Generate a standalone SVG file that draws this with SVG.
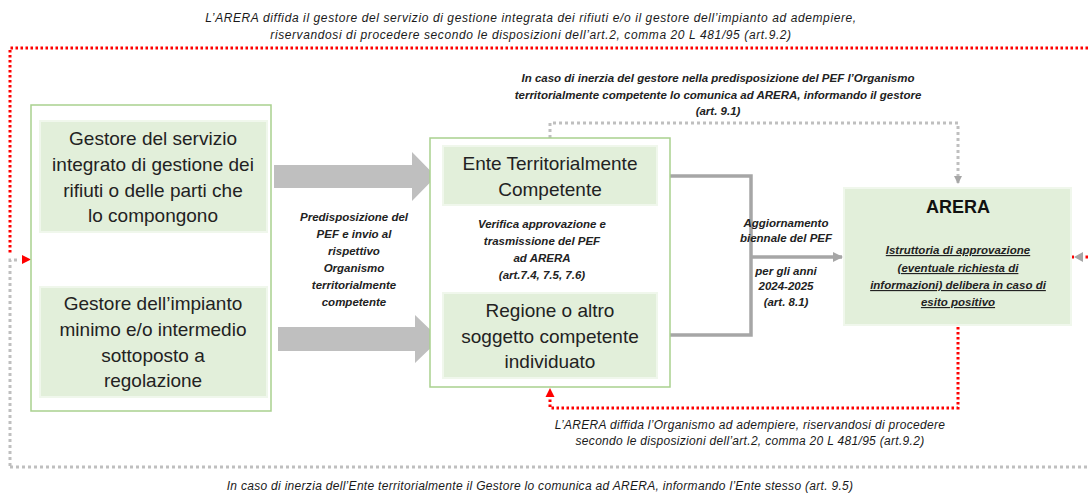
<svg xmlns="http://www.w3.org/2000/svg" width="1088" height="495" viewBox="0 0 1088 495">
<style>
.cont{fill:#ffffff;stroke:#a9d18e;stroke-width:1.5}
.box{fill:#e2efda;stroke:#f0f7ec;stroke-width:2}
.big{font-family:"Liberation Sans",Arial,sans-serif;font-size:19px;fill:#222;text-anchor:middle}
.lbl{font-family:"Liberation Sans",Arial,sans-serif;font-size:11.5px;font-weight:bold;font-style:italic;fill:#222;text-anchor:middle}
.note{font-family:"Liberation Sans",Arial,sans-serif;font-size:12px;font-style:italic;fill:#1a1a1a;text-anchor:middle;letter-spacing:0.3px}
.red{fill:none;stroke:#ff0000;stroke-width:3;stroke-dasharray:2.5 2.5}
.gray{fill:none;stroke:#bfbfbf;stroke-width:3;stroke-dasharray:3 3}
.solid{fill:none;stroke:#a6a6a6;stroke-width:3.5}
.blk{fill:#bfbfbf}
</style>
<defs>
<marker id="ah-gray" markerWidth="10" markerHeight="10" refX="7" refY="4" orient="auto" markerUnits="userSpaceOnUse"><path d="M0,0 L8,4 L0,8 z" fill="#a6a6a6"/></marker>
<marker id="ah-lg" markerWidth="12" markerHeight="12" refX="9" refY="5" orient="auto" markerUnits="userSpaceOnUse"><path d="M0,0 L10,5 L0,10 z" fill="#a6a6a6"/></marker>
</defs>

<!-- top note -->
<g id="label-diffida-gestore">
  <text class="note" x="531" y="22" style="letter-spacing:0.6px">L’ARERA diffida il gestore del servizio di gestione integrata dei rifiuti e/o il gestore dell’impianto ad adempiere,</text>
  <text class="note" x="531" y="39" style="letter-spacing:0.6px">riservandosi di procedere secondo le disposizioni dell’art.2, comma 20 L 481/95 (art.9.2)</text>
</g>

<g id="connectors">
  <!-- red outer loop top/left -->
  <path class="red" d="M1088,48 L10,48 L10,254"/>
  <path class="gray" d="M10,466 L10,260 L20,260"/>
  <path d="M22,255 L31,259.5 L22,264 z" fill="#ff0000"/>
  <!-- gray bottom loop -->
  <path class="gray" d="M10,467 L1088,467"/>
  <!-- right side arrows into ARERA -->
  <path class="red" d="M1088,257 L1084,257"/>
  <path d="M1083,252 L1074,257 L1083,262 z" fill="#a6a6a6"/>
  <rect x="1071" y="255.5" width="3" height="3" fill="#ff0000"/>
  <!-- block arrows -->
  <path class="blk" d="M274,165 L412,165 L412,152 L436,176.5 L412,201 L412,188 L274,188 z"/>
  <path class="blk" d="M278,327 L415,327 L415,315 L440,339 L415,363 L415,351 L278,351 z"/>
  <!-- solid connector from ETC / Regione to ARERA -->
  <path class="solid" d="M657,176 L751,176 L751,335 L657,335"/>
  <path class="solid" d="M751,257 L842,257" marker-end="url(#ah-lg)"/>
  <!-- gray dotted from ETC to ARERA top -->
  <path class="gray" d="M550,138 L550,123 L958,123 L958,183" marker-end="url(#ah-gray)"/>
  <!-- red dotted from ARERA bottom to middle container -->
  <path class="red" d="M958,327 L958,408 L550,408 L550,396"/>
  <path d="M545.5,397 L550,388 L554.5,397 z" fill="#ff0000"/>
</g>

<g id="gestori">
  <rect class="cont" x="31" y="105" width="240" height="306"/>
</g>
<g id="gestore-servizio">
  <rect class="box" x="40" y="121" width="227" height="111"/>
  <text class="big" x="153" y="145">Gestore del servizio</text>
  <text class="big" x="153" y="171">integrato di gestione dei</text>
  <text class="big" x="153" y="197">rifiuti o delle parti che</text>
  <text class="big" x="153" y="222">lo compongono</text>
</g>
<g id="gestore-impianto">
  <rect class="box" x="40" y="287" width="227" height="110"/>
  <text class="big" x="153" y="310">Gestore dell’impianto</text>
  <text class="big" x="153" y="336">minimo e/o intermedio</text>
  <text class="big" x="153" y="362">sottoposto a</text>
  <text class="big" x="153" y="387">regolazione</text>
</g>

<g id="label-predisposizione">
  <text class="lbl" x="354" y="221">Predisposizione del</text>
  <text class="lbl" x="354" y="238">PEF e invio al</text>
  <text class="lbl" x="354" y="255">rispettivo</text>
  <text class="lbl" x="354" y="272">Organismo</text>
  <text class="lbl" x="354" y="289">territorialmente</text>
  <text class="lbl" x="354" y="306">competente</text>
</g>

<g id="organismo">
  <rect class="cont" x="430" y="138" width="240" height="249"/>
  <text class="lbl" x="542" y="228">Verifica approvazione e</text>
  <text class="lbl" x="542" y="245">trasmissione  del PEF</text>
  <text class="lbl" x="542" y="262">ad ARERA</text>
  <text class="lbl" x="542" y="279">(art.7.4, 7.5, 7.6)</text>
</g>
<g id="ente">
  <rect class="box" x="443" y="146" width="214" height="59"/>
  <text class="big" x="550" y="170">Ente Territorialmente</text>
  <text class="big" x="550" y="196">Competente</text>
</g>
<g id="regione">
  <rect class="box" x="443" y="293" width="214" height="85"/>
  <text class="big" x="550" y="317">Regione o altro</text>
  <text class="big" x="550" y="343">soggetto competente</text>
  <text class="big" x="550" y="368">individuato</text>
</g>

<g id="label-aggiornamento">
  <text class="lbl" x="786" y="227">Aggiornamento</text>
  <text class="lbl" x="786" y="242">biennale del PEF</text>
  <text class="lbl" x="786" y="275">per gli anni</text>
  <text class="lbl" x="786" y="290">2024-2025</text>
  <text class="lbl" x="786" y="306">(art. 8.1)</text>
</g>

<g id="label-inerzia-gestore">
  <text class="lbl" x="718" y="82" font-size="12">In caso di inerzia del gestore nella predisposizione del PEF l’Organismo</text>
  <text class="lbl" x="718" y="99" font-size="12">territorialmente competente lo comunica ad ARERA, informando il gestore</text>
  <text class="lbl" x="718" y="115" font-size="12">(art. 9.1)</text>
</g>

<g id="arera">
  <rect class="box" x="844" y="188" width="227" height="137"/>
  <text x="958" y="213" font-family="Liberation Sans,Arial,sans-serif" font-size="18" font-weight="bold" fill="#111" text-anchor="middle">ARERA</text>
  <text class="lbl" x="958" y="254" text-decoration="underline" font-size="12">Istruttoria di approvazione</text>
  <text class="lbl" x="958" y="272" text-decoration="underline" font-size="12">(eventuale richiesta di</text>
  <text class="lbl" x="958" y="289" text-decoration="underline" font-size="12">informazioni) delibera in caso di</text>
  <text class="lbl" x="958" y="306" text-decoration="underline" font-size="12">esito positivo</text>
</g>

<g id="label-diffida-organismo">
  <text class="note" x="750" y="429">L’ARERA diffida l’Organismo ad adempiere, riservandosi di procedere</text>
  <text class="note" x="750" y="445">secondo le disposizioni dell’art.2, comma 20 L 481/95 (art.9.2)</text>
</g>
<g id="label-inerzia-ente">
  <text class="note" x="540" y="490">In caso di inerzia dell’Ente territorialmente il Gestore lo comunica ad ARERA, informando l’Ente stesso (art. 9.5)</text>
</g>
</svg>
